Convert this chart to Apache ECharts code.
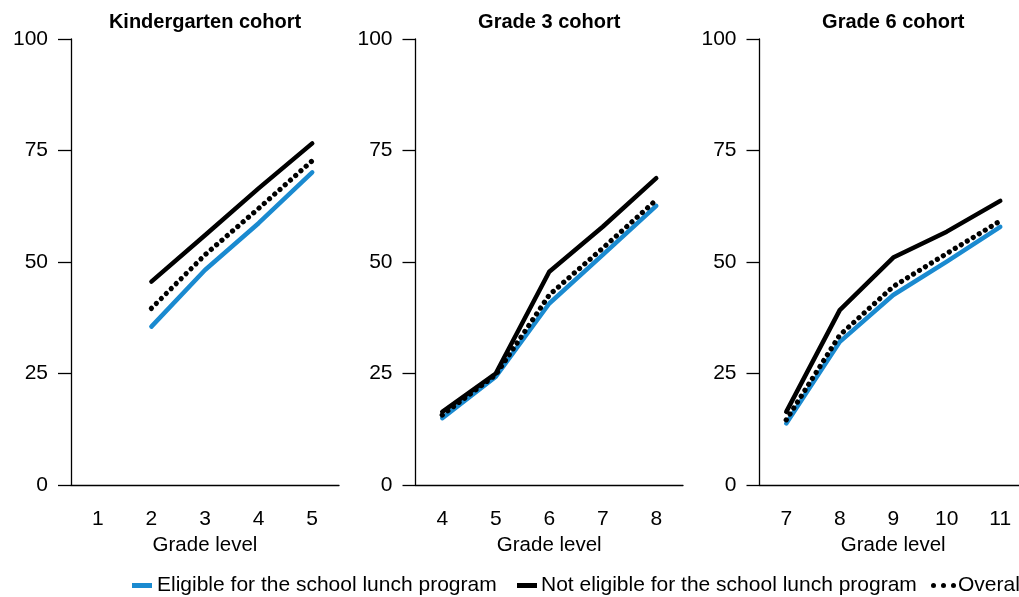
<!DOCTYPE html>
<html>
<head>
<meta charset="utf-8">
<script src="https://cdn.jsdelivr.net/npm/echarts@6/dist/echarts.min.js"></script>
<style>
html,body{margin:0;padding:0;background:#fff;}
#chart{width:1019px;height:597px;}
</style>
</head>
<body>
<div id="chart"></div>
<script>
const panelTitles = ['Kindergarten cohort', 'Grade 3 cohort', 'Grade 6 cohort'];
const gradesK = ['1', '2', '3', '4', '5'];
const gradesG3 = ['4', '5', '6', '7', '8'];
const gradesG6 = ['7', '8', '9', '10', '11'];
const eligibleK = [null, 35.5, 48.2, 58.7, 70.1];
const notEligibleK = [null, 45.6, 56.0, 66.5, 76.6];
const overallK = [null, 39.6, 51.6, 62.0, 72.7];
const eligibleG3 = [15.0, 24.3, 40.7, 51.6, 62.6];
const notEligibleG3 = [16.4, 25.0, 47.8, 57.9, 68.8];
const overallG3 = [15.7, 24.7, 42.6, 53.1, 63.9];
const eligibleG6 = [13.8, 32.1, 42.6, 50.1, 57.9];
const notEligibleG6 = [16.4, 39.2, 51.0, 56.8, 63.7];
const overallG6 = [14.6, 33.6, 44.5, 51.9, 59.2];
const seriesNames = ['Eligible for the school lunch program', 'Not eligible for the school lunch program', 'Overall'];
const yMin = 0, yMax = 100, yStep = 25;
const xAxisName = 'Grade level';

const FONT = 'Liberation Sans';
const BLUE = '#1a8ad0';
const grids = [
  {left: 71, width: 268},
  {left: 415.5, width: 267.5},
  {left: 759.5, width: 267.5}
];
const cats = [gradesK, gradesG3, gradesG6];
const dataSets = [
  [eligibleK, notEligibleK, overallK],
  [eligibleG3, notEligibleG3, overallG3],
  [eligibleG6, notEligibleG6, overallG6]
];

const legendText = {fontFamily: FONT, fontSize: 21, lineHeight: 21, color: '#000'};

const option = {
  animation: false,
  backgroundColor: '#fff',
  title: grids.map((g, i) => ({
    text: panelTitles[i],
    left: g.left + g.width / 2,
    top: 11,
    padding: 0,
    textAlign: 'center',
    textStyle: {fontFamily: FONT, fontWeight: 'bold', fontSize: 20, lineHeight: 22, color: '#000'}
  })),
  grid: grids.map(g => ({left: g.left, width: g.width, top: 39, height: 446, containLabel: false, outerBoundsMode: 'none'})),
  xAxis: grids.map((g, i) => ({
    type: 'category',
    gridIndex: i,
    data: cats[i],
    boundaryGap: true,
    axisLine: {show: true, lineStyle: {color: '#000', width: 1.3}},
    axisTick: {show: false},
    axisLabel: {fontFamily: FONT, fontSize: 21, color: '#000', margin: 24},
    name: xAxisName,
    nameLocation: 'middle',
    nameGap: 50,
    nameTextStyle: {fontFamily: FONT, fontSize: 20.5, color: '#000'},
    splitLine: {show: false}
  })),
  yAxis: grids.map((g, i) => ({
    type: 'value',
    gridIndex: i,
    min: yMin, max: yMax, interval: yStep,
    axisLine: {show: true, lineStyle: {color: '#000', width: 1.3}},
    axisTick: {show: true, length: 13, lineStyle: {color: '#000', width: 1.3}},
    axisLabel: {fontFamily: FONT, fontSize: 21, color: '#000', margin: 23},
    splitLine: {show: false}
  })),
  legend: [
    {left: 132, top: 575, padding: 0, data: [seriesNames[0]], icon: 'rect', itemWidth: 20, itemHeight: 5, itemGap: 0,
     textStyle: Object.assign({padding: [0, 0, 0, 0]}, legendText)},
    {left: 517, top: 575, padding: 0, data: [seriesNames[1]], icon: 'rect', itemWidth: 20, itemHeight: 5, itemGap: 0,
     textStyle: Object.assign({padding: [0, 0, 0, -1]}, legendText)},
    {left: 931, top: 575, padding: 0, data: [seriesNames[2]],
     icon: 'path://M0,2.5a2.5,2.5 0 1,0 5,0a2.5,2.5 0 1,0 -5,0ZM10,2.5a2.5,2.5 0 1,0 5,0a2.5,2.5 0 1,0 -5,0ZM20,2.5a2.5,2.5 0 1,0 5,0a2.5,2.5 0 1,0 -5,0Z',
     itemWidth: 25, itemHeight: 5, itemGap: 0,
     textStyle: Object.assign({padding: [0, 0, 0, -3]}, legendText)}
  ],
  series: []
};

dataSets.forEach((set, i) => {
  option.series.push({
    name: seriesNames[0], type: 'line', xAxisIndex: i, yAxisIndex: i, data: set[0],
    symbol: 'none', color: BLUE, lineStyle: {color: BLUE, width: 4.5, cap: 'round', join: 'round'}, z: 2
  });
  option.series.push({
    name: seriesNames[1], type: 'line', xAxisIndex: i, yAxisIndex: i, data: set[1],
    symbol: 'none', color: '#000', lineStyle: {color: '#000', width: 4.5, cap: 'round', join: 'round'}, z: 3
  });
  option.series.push({
    name: seriesNames[2], type: 'line', xAxisIndex: i, yAxisIndex: i, data: set[2],
    symbol: 'none', color: '#000', lineStyle: {color: '#000', width: 5.2, type: [0.01, 7], cap: 'round', join: 'round'}, z: 4
  });
});

const chart = echarts.init(document.getElementById('chart'), null, {renderer: 'canvas'});
chart.setOption(option);
</script>
</body>
</html>
